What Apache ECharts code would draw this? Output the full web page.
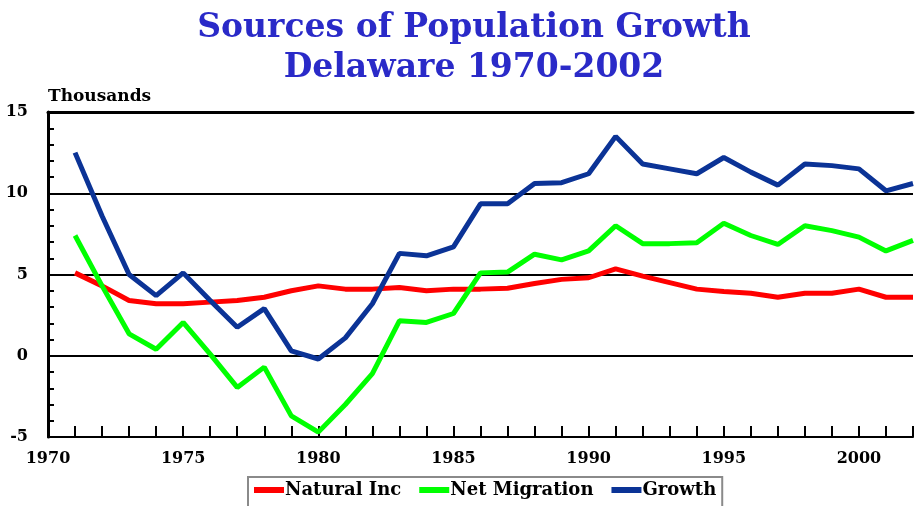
<!DOCTYPE html>
<html>
<head>
<meta charset="utf-8">
<script src="https://cdn.jsdelivr.net/npm/echarts@6/dist/echarts.min.js"></script>
<style>html,body{margin:0;padding:0;background:#fff}#c{width:916px;height:506px}</style>
</head>
<body>
<div id="c"></div>
<script>
var years = [1971,1972,1973,1974,1975,1976,1977,1978,1979,1980,1981,1982,1983,1984,1985,1986,1987,1988,1989,1990,1991,1992,1993,1994,1995,1996,1997,1998,1999,2000,2001,2002];
var naturalInc = [5.1,4.3,3.4,3.2,3.2,3.3,3.4,3.6,4.0,4.3,4.1,4.1,4.2,4.0,4.1,4.1,4.15,4.45,4.7,4.8,5.35,4.9,4.5,4.1,3.95,3.85,3.6,3.85,3.85,4.1,3.6,3.6];
var netMigration = [7.4,4.3,1.35,0.4,2.05,0.1,-1.95,-0.7,-3.7,-4.7,-3.0,-1.1,2.15,2.05,2.6,5.1,5.15,6.25,5.9,6.45,8.0,6.9,6.9,6.95,8.15,7.4,6.85,8.0,7.7,7.3,6.45,7.1];
var growth = [12.5,8.6,5.0,3.7,5.1,3.4,1.75,2.9,0.3,-0.2,1.1,3.2,6.3,6.15,6.7,9.35,9.35,10.6,10.65,11.2,13.5,11.8,11.5,11.2,12.2,11.3,10.5,11.8,11.7,11.5,10.15,10.6];
var seriesNames = ['Natural Inc','Net Migration','Growth'];
var yTicks = [-5,0,5,10,15];
var xLabelYears = [1970,1975,1980,1985,1990,1995,2000];

function pairs(vals){ return years.map(function(y,i){ return [y, vals[i]]; }); }

var serif = 'DejaVu Serif';
var chart = echarts.init(document.getElementById('c'));
chart.setOption({
  animation: false,
  backgroundColor: '#fff',
  title: {
    text: 'Sources of Population Growth\nDelaware 1970-2002',
    left: 469, top: 3, textAlign: 'center',
    textStyle: {fontFamily: serif, fontWeight: 'bold', fontSize: 33, lineHeight: 40, color: '#2a2ac8'}
  },
  legend: {
    data: seriesNames,
    left: 248, top: 477,
    padding: [4, 6, 10, 6],
    itemGap: 18,
    itemWidth: 30, itemHeight: 6,
    icon: 'rect',
    borderColor: '#8a8a8a', borderWidth: 2,
    textStyle: {fontFamily: serif, fontWeight: 'bold', fontSize: 18, color: '#000', padding: [0,0,0,-4]}
  },
  grid: {left: 48, right: 0, top: 112, bottom: 69, containLabel: false},
  xAxis: [{
    type: 'value', min: 1970, max: 2002, interval: 1,
    axisLine: {onZero: false, lineStyle: {color: '#000', width: 2}},
    axisTick: {inside: true, length: 11, lineStyle: {color: '#000', width: 2}},
    axisLabel: {margin: 14, fontFamily: serif, fontWeight: 'bold', fontSize: 16, color: '#000',
      formatter: function(v){ return xLabelYears.indexOf(v) >= 0 ? String(v) : ''; }},
    splitLine: {show: false}
  }, {
    type: 'value', position: 'top', min: 1970, max: 2002,
    axisLine: {show: true, onZero: false, lineStyle: {color: '#000', width: 3}},
    axisTick: {show: false}, axisLabel: {show: false}, splitLine: {show: false}
  }],
  yAxis: {
    type: 'value', min: yTicks[0], max: yTicks[yTicks.length-1], interval: 5,
    name: 'Thousands', nameLocation: 'end', nameGap: 7,
    nameTextStyle: {fontFamily: serif, fontWeight: 'bold', fontSize: 17, color: '#000', align: 'left', verticalAlign: 'bottom'},
    axisLine: {show: true, lineStyle: {color: '#000', width: 3}},
    axisTick: {show: true, inside: true, length: 6, lineStyle: {color: '#000', width: 2}},
    minorTick: {show: true, splitNumber: 5, length: 6, lineStyle: {color: '#000', width: 2}},
    axisLabel: {margin: 20, fontFamily: serif, fontWeight: 'bold', fontSize: 16, color: '#000'},
    splitLine: {show: true, lineStyle: {color: '#000', width: 2}}
  },
  series: [
    {name: seriesNames[0], type: 'line', xAxisIndex: 0, data: pairs(naturalInc), symbol: 'none', lineStyle: {width: 5, color: '#ff0000'}, itemStyle: {color: '#ff0000'}, z: 3},
    {name: seriesNames[1], type: 'line', xAxisIndex: 0, data: pairs(netMigration), symbol: 'none', lineStyle: {width: 5, color: '#00ff00'}, itemStyle: {color: '#00ff00'}, z: 4},
    {name: seriesNames[2], type: 'line', xAxisIndex: 0, data: pairs(growth), symbol: 'none', lineStyle: {width: 5, color: '#0b3396'}, itemStyle: {color: '#0b3396'}, z: 5}
  ]
});
</script>
</body>
</html>
